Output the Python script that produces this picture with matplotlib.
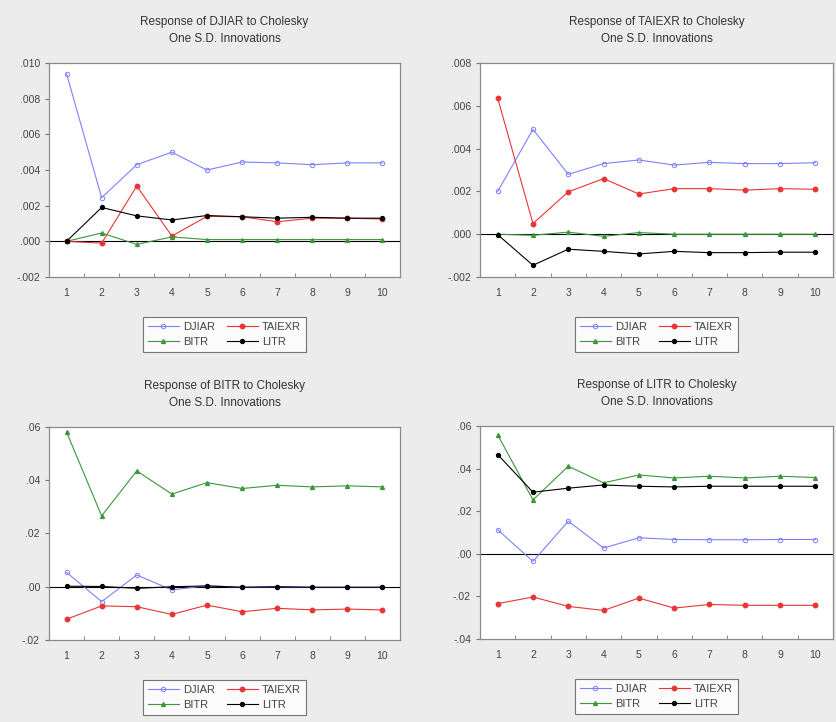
import matplotlib
matplotlib.use('Agg')
import matplotlib.pyplot as plt
import numpy as np
from matplotlib.ticker import FuncFormatter

plt.rcParams['font.family'] = ['Liberation Sans', 'DejaVu Sans']
plt.rcParams['font.size'] = 7.5

periods = np.arange(1, 11)
names = ['DJIAR', 'TAIEXR', 'BITR', 'LITR']

# responses of DJIAR
djiar_djiar = [0.0094, 0.00245, 0.0043, 0.0050, 0.0040, 0.00445, 0.0044, 0.0043, 0.0044, 0.0044]
djiar_taiexr = [0.0, -0.0001, 0.0031, 0.0003, 0.0014, 0.00138, 0.0011, 0.0013, 0.0013, 0.00125]
djiar_bitr = [0.0, 0.00047, -0.00017, 0.00025, 0.0001, 0.0001, 0.0001, 0.0001, 0.0001, 0.0001]
djiar_litr = [0.0, 0.0019, 0.00143, 0.0012, 0.00145, 0.00138, 0.0013, 0.00135, 0.0013, 0.0013]

# responses of TAIEXR
taiexr_djiar = [0.002, 0.0049, 0.0028, 0.0033, 0.00347, 0.00323, 0.00336, 0.0033, 0.0033, 0.00334]
taiexr_taiexr = [0.00636, 0.0005, 0.00198, 0.0026, 0.00188, 0.00213, 0.00213, 0.00206, 0.00213, 0.0021]
taiexr_bitr = [0.0, -0.00005, 0.0001, -0.0001, 0.00008, 0.0, 0.0, 0.0, 0.0, 0.0]
taiexr_litr = [-0.00002, -0.00145, -0.0007, -0.0008, -0.00092, -0.0008, -0.00086, -0.00086, -0.00084, -0.00084]

# responses of BITR
bitr_djiar = [0.0054, -0.0056, 0.0044, -0.0012, 0.0004, -0.0002, 0.0, -0.0002, -0.0002, -0.0002]
bitr_taiexr = [-0.0122, -0.0072, -0.0075, -0.0104, -0.0069, -0.0094, -0.0081, -0.0087, -0.0084, -0.0087]
bitr_bitr = [0.0581, 0.0266, 0.0435, 0.0348, 0.0391, 0.0369, 0.0381, 0.0375, 0.0379, 0.0375]
bitr_litr = [0.0002, 0.0001, -0.0006, 0.0, 0.0003, -0.0002, 0.0, -0.0002, -0.0002, -0.0002]

# responses of LITR
litr_djiar = [0.0113, -0.0036, 0.0153, 0.0027, 0.0075, 0.0067, 0.0066, 0.0066, 0.0067, 0.0067]
litr_taiexr = [-0.0234, -0.0203, -0.0247, -0.0266, -0.0208, -0.0255, -0.0238, -0.0242, -0.0242, -0.0242]
litr_bitr = [0.0558, 0.0253, 0.0411, 0.0333, 0.037, 0.0356, 0.0364, 0.0356, 0.0364, 0.0358]
litr_litr = [0.0466, 0.0289, 0.0308, 0.0323, 0.0317, 0.0314, 0.0317, 0.0317, 0.0317, 0.0317]

styles = {
    'DJIAR': dict(color='#8080ff', marker='o', markersize=3.2, markerfacecolor='none', markeredgewidth=0.7),
    'TAIEXR': dict(color='#e83535', marker='o', markersize=3.2),
    'BITR': dict(color='#3c963c', marker='^', markersize=2.8),
    'LITR': dict(color='#000000', marker='o', markersize=2.8),
}

panels = [
    ('DJIAR', [djiar_djiar, djiar_taiexr, djiar_bitr, djiar_litr], (-0.002, 0.010), np.arange(-0.002, 0.0101, 0.002), 3),
    ('TAIEXR', [taiexr_djiar, taiexr_taiexr, taiexr_bitr, taiexr_litr], (-0.002, 0.008), np.arange(-0.002, 0.0081, 0.002), 3),
    ('BITR', [bitr_djiar, bitr_taiexr, bitr_bitr, bitr_litr], (-0.02, 0.06), np.arange(-0.02, 0.061, 0.02), 2),
    ('LITR', [litr_djiar, litr_taiexr, litr_bitr, litr_litr], (-0.04, 0.06), np.arange(-0.04, 0.061, 0.02), 2),
]

positions = [
    [0.0586, 0.6163, 0.4199, 0.2964],
    [0.5742, 0.6163, 0.4222, 0.2964],
    [0.0586, 0.1136, 0.4199, 0.2950],
    [0.5742, 0.1150, 0.4222, 0.2950],
]


def dotless(decimals):
    def fmt(v, pos):
        s = f'{v:.{decimals}f}'
        if abs(v) < 1e-12:
            s = f'{0:.{decimals}f}'
        return s.replace('0.', '.', 1)
    return FuncFormatter(fmt)


fig = plt.figure(figsize=(8.36, 7.22), dpi=100)
fig.patch.set_facecolor('#ececec')

for (resp, series, ylim, yticks, dec), pos in zip(panels, positions):
    ax = fig.add_axes(pos)
    ax.set_facecolor('white')
    lines = {}
    for name, vals in zip(names, series):
        lines[name], = ax.plot(periods, vals, linewidth=0.8, label=name, **styles[name])
    ax.axhline(0, color='black', linewidth=0.8, zorder=0)
    ax.set_xlim(0.5, 10.5)
    ax.set_ylim(*ylim)
    ax.set_yticks(yticks)
    ax.yaxis.set_major_formatter(dotless(dec))
    ax.set_xticks(periods)
    ax.set_xticks(np.arange(1.5, 10.5, 1), minor=True)
    ax.tick_params(axis='x', which='major', length=0, pad=8, colors='#444444')
    ax.tick_params(axis='x', which='minor', direction='in', length=3, color='#777777')
    ax.tick_params(axis='y', direction='out', length=3, color='#777777', labelcolor='#444444')
    for sp in ax.spines.values():
        sp.set_color('#8a8a8a')
        sp.set_linewidth(0.9)
    ax.set_title(f'Response of {resp} to Cholesky\nOne S.D. Innovations', fontsize=8.5,
                 color='#333333', pad=15, linespacing=1.55)
    # row-wise order: DJIAR, TAIEXR / BITR, LITR
    order = ['DJIAR', 'BITR', 'TAIEXR', 'LITR']
    leg = ax.legend([lines[n] for n in order], order, loc='upper center',
                    bbox_to_anchor=(0.5, -0.16), ncol=2, fontsize=8,
                    frameon=True, fancybox=False, edgecolor='#555555', handlelength=2.8,
                    columnspacing=1.0, labelspacing=0.45, borderpad=0.45, handletextpad=0.4)
    leg.get_frame().set_linewidth(0.8)
    for t in leg.get_texts():
        t.set_color('#444444')

plt.savefig('out.png', dpi=100, facecolor=fig.get_facecolor())
